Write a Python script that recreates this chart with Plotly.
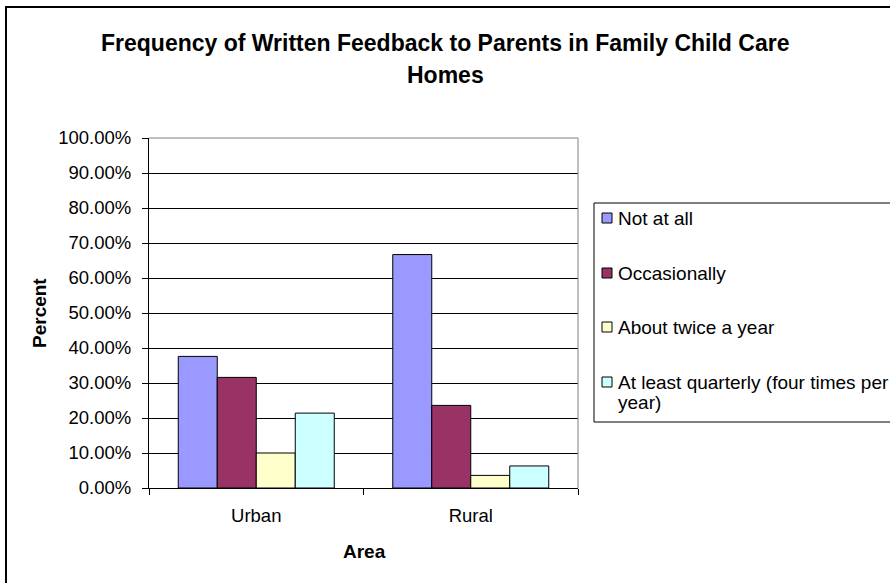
import plotly.graph_objects as go

# Survey results: share of family child care homes by feedback frequency
areas = ["Urban", "Rural"]
series_names = [
    "Not at all",
    "Occasionally",
    "About twice a year",
    "At least quarterly (four times per year)",
]
legend_labels = [
    "Not at all",
    "Occasionally",
    "About twice a year",
    "At least quarterly (four times per<br>year)",
]
not_at_all = [0.376, 0.667]
occasionally = [0.316, 0.236]
twice_a_year = [0.100, 0.036]
quarterly = [0.214, 0.063]
series_values = [not_at_all, occasionally, twice_a_year, quarterly]
series_colors = ["#9999FF", "#993366", "#FFFFCC", "#CCFFFF"]

title_lines = ["Frequency of Written Feedback to Parents in Family Child Care", "Homes"]
y_title = "Percent"
x_title = "Area"

FONT = "Liberation Sans, Arial, sans-serif"
W, H = 890, 583
L, R, T, B = 149, 578, 138, 488
TICK_SIZE = 18.5
LEGEND_SIZE = 19


def px(x):
    return (x - L) / (R - L)


def py(y):
    return (B - y) / (B - T)


fig = go.Figure()
for name, vals, col in zip(series_names, series_values, series_colors):
    fig.add_trace(go.Bar(
        x=areas, y=vals, name=name,
        marker=dict(color=col, line=dict(color="black", width=1)),
        showlegend=False,
    ))

shapes = [
    # chart frame
    dict(type="rect", xref="paper", yref="paper",
         x0=px(6), y0=py(7), x1=px(905), y1=py(600),
         line=dict(color="black", width=2), layer="above"),
    # plot area border (top and right)
    dict(type="line", xref="paper", yref="paper", x0=0, y0=1, x1=1, y1=1,
         line=dict(color="#808080", width=1), layer="above"),
    dict(type="line", xref="paper", yref="paper", x0=1, y0=0, x1=1, y1=1,
         line=dict(color="#808080", width=1), layer="above"),
    # legend box
    dict(type="rect", xref="paper", yref="paper",
         x0=px(594), y0=py(203), x1=px(905), y1=py(422),
         line=dict(color="black", width=1), fillcolor="white", layer="above"),
]

annotations = []
for i, line in enumerate(title_lines):
    annotations.append(dict(
        text=f"<b>{line}</b>", xref="paper", yref="paper",
        x=px(445), y=py([43, 75][i]), xanchor="center", yanchor="middle",
        showarrow=False, font=dict(family=FONT, size=23, color="black"),
    ))

annotations.append(dict(
    text=f"<b>{y_title}</b>", xref="paper", yref="paper",
    x=px(39), y=py(313), xanchor="center", yanchor="middle", textangle=-90,
    showarrow=False, font=dict(family=FONT, size=19, color="black"),
))
annotations.append(dict(
    text=f"<b>{x_title}</b>", xref="paper", yref="paper",
    x=px(364), y=py(551), xanchor="center", yanchor="middle",
    showarrow=False, font=dict(family=FONT, size=19, color="black"),
))

# hand-built legend inside the box
item_y = [218, 273, 327, 382]
for lab, col, yc in zip(legend_labels, series_colors, item_y):
    shapes.append(dict(
        type="rect", xref="paper", yref="paper",
        x0=px(602), y0=py(yc - 5), x1=px(612), y1=py(yc + 5),
        fillcolor=col, line=dict(color="black", width=1), layer="above",
    ))
    for k, part in enumerate(lab.split("<br>")):
        annotations.append(dict(
            text=part, xref="paper", yref="paper",
            x=px(616), y=py(yc + 20 * k), xanchor="left", yanchor="middle",
            align="left", showarrow=False,
            font=dict(family=FONT, size=LEGEND_SIZE, color="black"),
        ))

fig.update_layout(
    width=W, height=H,
    margin=dict(l=L, r=W - R, t=T, b=H - B, autoexpand=False),
    paper_bgcolor="white", plot_bgcolor="white",
    barmode="group", bargap=0.2727, bargroupgap=0,
    font=dict(family=FONT, size=TICK_SIZE, color="black"),
    shapes=shapes, annotations=annotations,
    showlegend=False,
)
fig.update_yaxes(
    range=[0, 1], dtick=0.1, tick0=0, tickformat=".2%",
    showline=True, linecolor="black", linewidth=1,
    ticks="outside", ticklen=6, tickcolor="black", tickwidth=1,
    showgrid=True, gridcolor="black", gridwidth=1, zeroline=False,
    ticklabelstandoff=7, tickfont=dict(family=FONT, size=TICK_SIZE, color="black"),
)
fig.update_xaxes(
    type="category", showline=True, linecolor="black", linewidth=1,
    ticks="outside", tickson="boundaries", ticklen=6, tickcolor="black",
    showgrid=False, ticklabelstandoff=11,
    tickfont=dict(family=FONT, size=TICK_SIZE, color="black"),
)

fig.write_html("out.html")
